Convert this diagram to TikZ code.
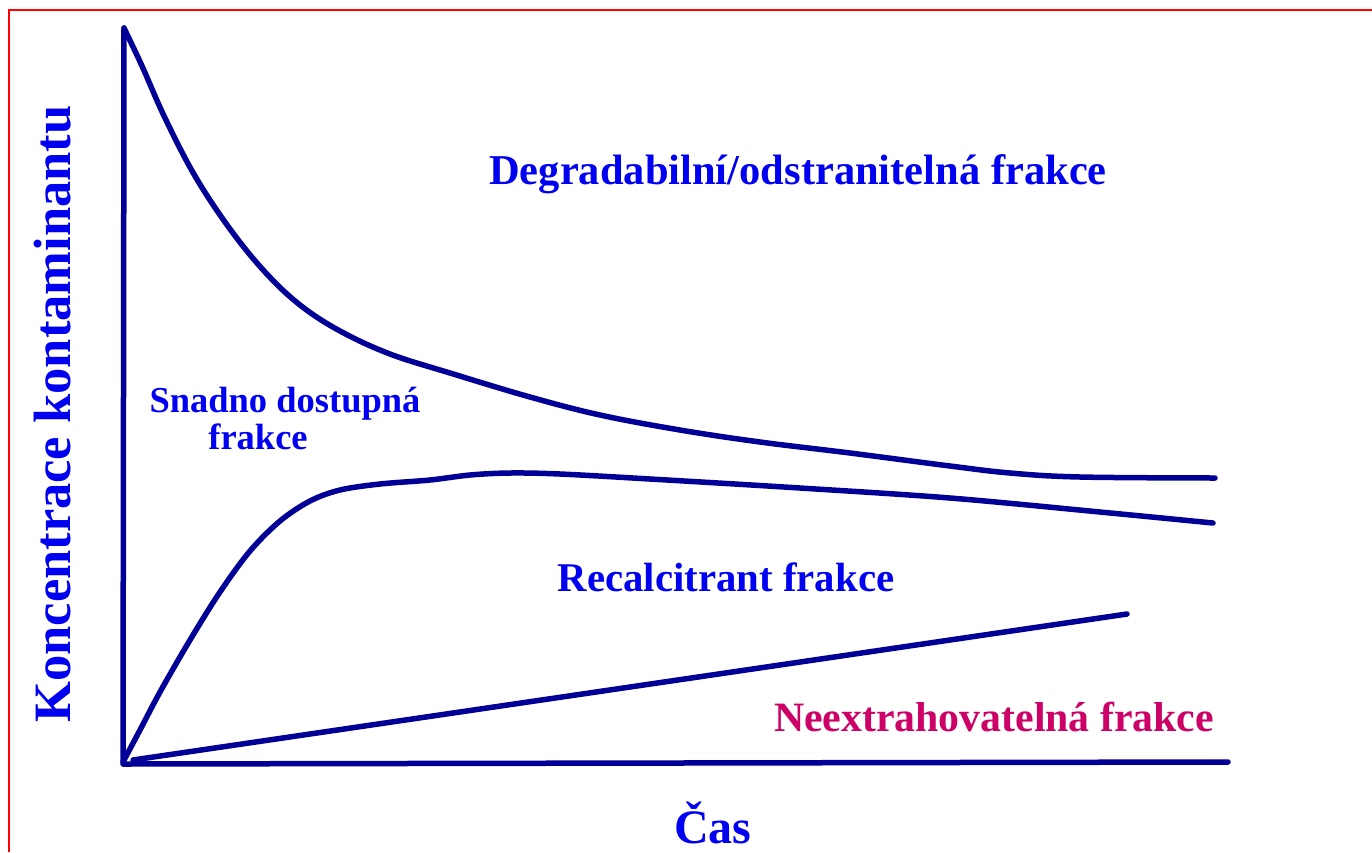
\documentclass[tikz,border=0pt]{standalone}
\usepackage{fontspec}
\setmainfont{Liberation Serif}
\definecolor{linecol}{RGB}{0,0,150}
\definecolor{txtblue}{RGB}{0,0,240}
\definecolor{txtmag}{RGB}{204,0,102}
\definecolor{framecol}{RGB}{255,0,0}
\tikzset{
  curve/.style={line width=5.5pt, draw=linecol, line cap=round, line join=round},
  lbl/.style={text=txtblue, font=\bfseries, inner sep=0pt, anchor=base},
}
\begin{document}
\begin{tikzpicture}[x=1pt,y=-1pt]
\useasboundingbox (0,0) rectangle (1372,852);
\draw[framecol, line width=2pt] (8.5,852) -- (8.5,9.5) -- (1372,9.5);
% axes
\coordinate (top) at (124,28);
\coordinate (origin) at (123,764);
\coordinate (xend) at (1228,762);
\draw[curve] (top) -- (origin) -- (xend);
% top curve
\draw[curve] plot[smooth, tension=0.6] coordinates {(124,28) (142,66) (165,118) (195,176) (230,229) (265,272) (300,305) (340,331) (390,354) (450,373) (530,397) (600,415) (680,430) (760,442) (850,453) (950,466) (1010,473) (1080,477) (1215,478)};
% middle curve
\draw[curve] plot[smooth, tension=0.55] coordinates {(123,762) (140,730) (160,692) (190,640) (220,592) (250,551) (280,521) (310,501) (340,490) (380,484) (430,480) (470,475) (510,473) (560,474) (650,479) (800,488) (950,498) (1100,512) (1213,523)};
% straight line
\coordinate (s0) at (133,760);
\coordinate (s1) at (1127,614);
\draw[curve] (s0) -- (s1);
% labels
\node[lbl, font=\bfseries\fontsize{42.5}{48}\selectfont] (deg) at (798,184) {Degradabilní/odstranitelná frakce};
\node[lbl, font=\bfseries\fontsize{36.5}{42}\selectfont] (snad) at (285,412) {Snadno dostupná};
\node[lbl, font=\bfseries\fontsize{36.5}{42}\selectfont] (snad2) at (258,449) {frakce};
\node[lbl, font=\bfseries\fontsize{40.8}{46}\selectfont] (rec) at (726,591) {Recalcitrant frakce};
\node[lbl, text=txtmag, font=\bfseries\fontsize{41.8}{48}\selectfont] (neex) at (994,731) {Neextrahovatelná frakce};
\node[lbl, text depth=0pt, font=\bfseries\fontsize{48}{54}\selectfont] (cas) at (713,843) {Čas};
\node[lbl, rotate=90, font=\bfseries\fontsize{52.5}{60}\selectfont] (ylab) at (70,414) {Koncentrace kontaminantu};
\end{tikzpicture}
\end{document}
